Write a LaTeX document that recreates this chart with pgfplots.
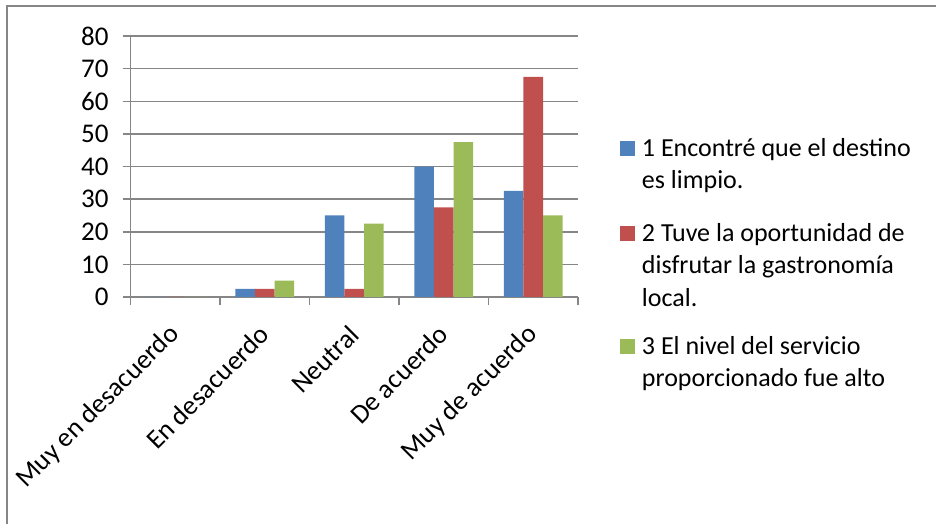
\documentclass[border=0pt]{standalone}
\usepackage{pgfplots}
\pgfplotsset{compat=1.18}
\usepackage{fontspec}
\setmainfont{Carlito}

\definecolor{serblue}{HTML}{4F81BD}
\definecolor{serred}{HTML}{C0504D}
\definecolor{sergreen}{HTML}{9BBB59}
\definecolor{gridgray}{HTML}{868686}

\newcommand{\lentry}[1]{\begin{tabular}[t]{@{}l@{}}#1\end{tabular}}

\begin{document}
\fontsize{13}{16.25}\selectfont
\begin{tikzpicture}[x=1pt,y=1pt]
\useasboundingbox (0,0) rectangle (468,262);
% outer chart frame (only top and left are visible)
\draw[line width=1pt, gridgray] (3.5,0) -- (3.5,259) -- (468,259);
\begin{axis}[
    at={(65.25pt,113.5pt)}, anchor=south west,
    scale only axis,
    width=223.75pt, height=130.5pt,
    xmin=-0.5, xmax=4.5,
    ymin=0, ymax=80,
    axis lines*=left,
    axis line style={-, gridgray, line width=0.75pt},
    ytick={0,10,...,80},
    xtick={0,1,2,3,4},
    xticklabels={Muy en desacuerdo, En desacuerdo, Neutral, De acuerdo, Muy de acuerdo},
    minor xtick={-0.5,0.5,1.5,2.5,3.5,4.5},
    tick align=outside,
    major tick length=4pt,
    minor tick length=4pt,
    major x tick style={draw=none},
    minor x tick style={gridgray, line width=0.75pt},
    y tick style={gridgray, line width=0.75pt},
    ymajorgrids=true,
    grid style={gridgray, line width=0.75pt},
    /pgf/number format/assume math mode=true,
    ticklabel style={font=\fontsize{13.5}{16.25}\selectfont},
    yticklabel style={xshift=-2.5pt},
    xticklabel style={xshift=0pt, yshift=-12.5pt, rotate=45, anchor=east, inner sep=0pt},
    ybar=0pt,
    bar width=9.8pt,
    legend image code/.code={\fill[#1] (0pt,0pt) rectangle (7.5pt,7.5pt);},
    legend style={draw=none, fill=none, at={(1.0929,0.6276)}, anchor=north west,
        inner sep=0pt, row sep=9pt, column sep=3.5pt,
        nodes={inner sep=0pt, anchor=base west, text height=11.4pt,
               font=\fontsize{13}{16.25}\selectfont}},
]
\addplot[fill=serblue, draw=none] coordinates {(0,0) (1,2.5) (2,25) (3,40) (4,32.5)};
\addlegendentry[text depth=22.1pt]{\lentry{1 Encontré que el destino\\es limpio.}}
\addplot[fill=serred, draw=none] coordinates {(0,0) (1,2.5) (2,2.5) (3,27.5) (4,67.5)};
\addlegendentry[text depth=36.1pt]{\lentry{2 Tuve la oportunidad de\\disfrutar la gastronomía\\local.}}
\addplot[fill=sergreen, draw=none] coordinates {(0,0) (1,5) (2,22.5) (3,47.5) (4,25)};
\addlegendentry[text depth=21.2pt]{\lentry{3 El nivel del servicio\\proporcionado fue alto}}
\end{axis}
\end{tikzpicture}
\end{document}
